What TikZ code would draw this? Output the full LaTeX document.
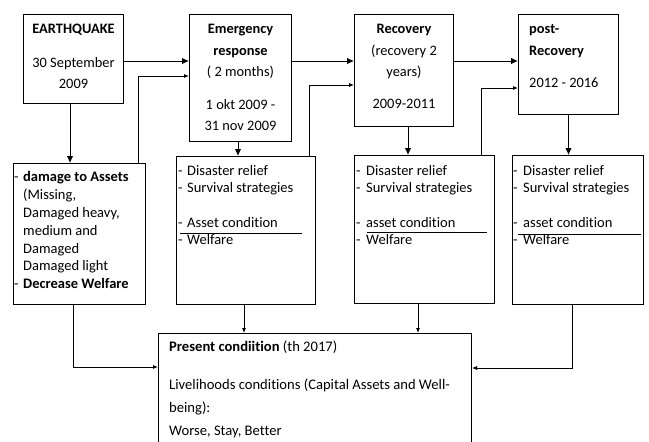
\documentclass[tikz,border=0pt]{standalone}
\usepackage{fontspec}
\setmainfont[Ligatures=NoCommon]{Carlito}
\usetikzlibrary{arrows.meta,calc}
\newcommand\mystrut{\rule{0pt}{11pt}}
\begin{document}
\begin{tikzpicture}[x=1pt,y=-1pt,
  box/.style={draw, line width=1pt, inner sep=0pt, anchor=north west},
  toptxt/.style={inner sep=0pt, font=\fontsize{14.4}{21.3}\selectfont},
  listtxt/.style={inner sep=0pt, align=left, anchor=north west, font=\fontsize{14.5}{17}\selectfont},
  arr/.style={line width=0.9pt, -{Latex[length=7pt,width=6.5pt]}},
  arrs/.style={line width=0.8pt, -{Latex[length=5pt,width=4pt]}},
  uline/.style={line width=0.8pt}]
\useasboundingbox (0,0) rectangle (649,442);
\clip (0,0) rectangle (649,442);

% top row boxes
\node[box, minimum width=100pt, minimum height=89pt] (eq) at (23,14) {};
\node[box, minimum width=102pt, minimum height=127pt] (em) at (189,14) {};
\node[box, minimum width=99pt, minimum height=112pt] (rec) at (354,14) {};
\node[box, minimum width=100pt, minimum height=100pt] (post) at (518,14) {};

% middle row boxes
\node[box, minimum width=132pt, minimum height=141pt] (dmg) at (13,163) {};
\node[box, minimum width=139pt, minimum height=148pt] (d1) at (176,156) {};
\node[box, minimum width=140pt, minimum height=148pt] (d2) at (354,155) {};
\node[box, minimum width=131pt, minimum height=149pt] (d3) at (512,155) {};

% bottom box
\node[box, minimum width=313pt, minimum height=120pt] (pres) at (158,333) {};

% texts of top row
\node[toptxt, anchor=north, align=center] (eqt) at ($(eq.north)+(0,8.6)$)
  {\mystrut\textbf{EARTHQUAKE}\\[12pt]30 September\\2009};
\node[toptxt, anchor=north, align=center] (emt) at ($(em.north)+(0,8.6)$)
  {\mystrut\textbf{Emergency}\\\textbf{response}\\( 2 months)\\[11.5pt]1 okt 2009 -\\31 nov 2009};
\node[toptxt, anchor=north, align=center] (rect) at ($(rec.north)+(0,8.6)$)
  {\mystrut\textbf{Recovery}\\(recovery 2\\years)\\[10.5pt]2009-2011};
\node[toptxt, anchor=north west, align=left] (postt) at ($(post.north west)+(11,8.6)$)
  {\mystrut\textbf{post-}\\\textbf{Recovery}\\[11.5pt]2012 - 2016};

% texts of middle row
\node[listtxt, font=\fontsize{14.5}{17.8}\selectfont] (dmgt) at ($(dmg.north west)+(1,7.6)$)
  {\mystrut\makebox[9pt][l]{-}\textbf{damage to Assets}\\
   \hspace*{9pt}(Missing,\\
   \hspace*{9pt}Damaged heavy,\\
   \hspace*{9pt}medium and\\
   \hspace*{9pt}Damaged\\
   \hspace*{9pt}Damaged light\\
   \makebox[9pt][l]{-}\textbf{Decrease Welfare}};
\node[listtxt] (d1t) at ($(d1.north west)+(2,8.6)$)
  {\mystrut\makebox[9pt][l]{-}Disaster relief\\
   \makebox[9pt][l]{-}Survival strategies\\[18pt]
   \makebox[9pt][l]{-}Asset condition\\
   \makebox[9pt][l]{-}Welfare};
\node[listtxt] (d2t) at ($(d2.north west)+(2,9.6)$)
  {\mystrut\makebox[10pt][l]{-}Disaster relief\\
   \makebox[10pt][l]{-}Survival strategies\\[18pt]
   \makebox[10pt][l]{-}asset condition\\
   \makebox[10pt][l]{-}Welfare};
\node[listtxt] (d3t) at ($(d3.north west)+(1,9.6)$)
  {\mystrut\makebox[10pt][l]{-}Disaster relief\\
   \makebox[10pt][l]{-}Survival strategies\\[18pt]
   \makebox[10pt][l]{-}asset condition\\
   \makebox[10pt][l]{-}Welfare};

% underlines
\draw[uline] ($(d1.north west)+(4,77)$) -- ($(d1.north west)+(126,77)$);
\draw[uline] ($(d2.north west)+(13,77)$) -- ($(d2.north west)+(133,77)$);
\draw[uline] ($(d3.north west)+(6,79)$) -- ($(d3.north west)+(129,79)$);

% bottom text
\node[listtxt, font=\fontsize{14.6}{23}\selectfont] (prest) at ($(pres.north west)+(11,7.6)$)
  {\mystrut\textbf{Present condiition} (th 2017)\\[15pt]
   Livelihoods conditions (Capital Assets and Well-\\
   being):\\
   Worse, Stay, Better};

% connectors, top row
\path (eq.north east) ++(0,47) coordinate (p1);
\draw[arr] (p1) -- (p1 -| em.west);
\path (dmg.north west) ++(125,0) coordinate (p2);
\draw[arrs] (p2) |- ($(em.north west)+(0,62)$);
\path (eq.south west) ++(47,0) coordinate (p3);
\draw[arr] (p3) -- (p3 |- dmg.north);
\path (em.north east) ++(0,47) coordinate (p4);
\draw[arr] (p4) -- (p4 -| rec.west);
\path (d1.north west) ++(133,0) coordinate (p5);
\draw[arrs] (p5) |- ($(rec.north west)+(0,71)$);
\path (em.south west) ++(49,0) coordinate (p6);
\draw[arr] (p6) -- (p6 |- d1.north);
\path (rec.north east) ++(0,47) coordinate (p7);
\draw[arr] (p7) -- (p7 -| post.west);
\path (d2.north west) ++(127,0) coordinate (p8);
\draw[arrs] (p8) |- ($(post.north west)+(0,74)$);
\path (rec.south west) ++(54,0) coordinate (p9);
\draw[arr] (p9) -- (p9 |- d2.north);
\draw[arr] (post.south) -- (post.south |- d3.north);

% connectors to present condition
\path (dmg.south west) ++(60,0) coordinate (q1);
\draw[arrs] (q1) |- ($(pres.north west)+(0,34)$);
\path (d1.south west) ++(68,0) coordinate (q2);
\draw[arrs] (q2) -- (q2 |- pres.north);
\path (d2.south west) ++(64,0) coordinate (q3);
\draw[arrs] (q3) -- (q3 |- pres.north);
\path (d3.south west) ++(60,0) coordinate (q4);
\draw[arrs] (q4) |- ($(pres.north east)+(0,35)$);
\end{tikzpicture}
\end{document}
